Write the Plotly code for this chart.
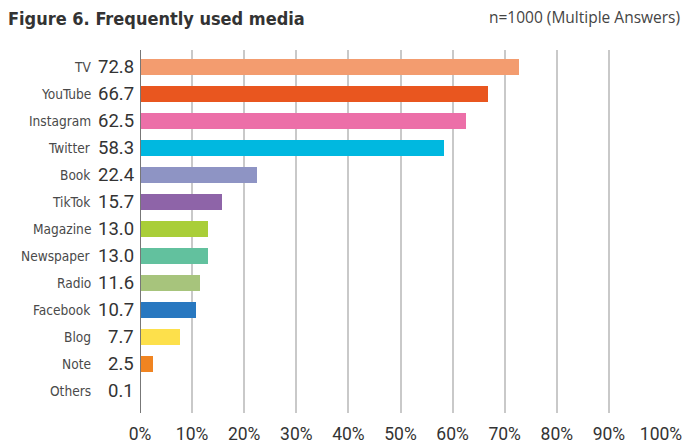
import plotly.graph_objects as go

categories = ["TV", "YouTube", "Instagram", "Twitter", "Book", "TikTok", "Magazine",
              "Newspaper", "Radio", "Facebook", "Blog", "Note", "Others"]
values = [72.8, 66.7, 62.5, 58.3, 22.4, 15.7, 13.0, 13.0, 11.6, 10.7, 7.7, 2.5, 0.1]
colors = ["#F39C6F", "#E9561F", "#EC6FA8", "#00B8E0", "#8E94C4", "#8E64A8", "#A9CE38",
          "#62C19E", "#A7C47C", "#2878C0", "#FDE04B", "#F08421", "#8B6A4A"]
x_ticks = list(range(0, 101, 10))
x_ticklabels = [f"{t}%" for t in x_ticks]

W, H = 687, 444
L, R, T, B = 139.5, 26, 50, 31
plot_w = W - L - R
plot_h = H - T - B

NARROW = "DejaVu Sans Condensed, DejaVu Sans, sans-serif"
NUM = "Roboto, sans-serif"

fig = go.Figure()
fig.add_trace(go.Bar(
    x=values, y=categories, orientation="h",
    marker=dict(color=colors, line=dict(width=0)),
    width=0.59, hoverinfo="skip",
))

annotations = []
for c, v in zip(categories, values):
    annotations.append(dict(
        x=(92 - L) / plot_w, xref="paper", y=c, yref="y",
        text=c, showarrow=False, xanchor="right", yanchor="middle",
        font=dict(family=NARROW, size=13.6, color="#4a4a4a"),
    ))
    annotations.append(dict(
        x=(135.5 - L) / plot_w, xref="paper", y=c, yref="y",
        text=f"{v:.1f}", showarrow=False, xanchor="right", yanchor="middle",
        font=dict(family=NUM, size=18.5, color="#333333"),
    ))

annotations.append(dict(
    x=(5 - L) / plot_w, xref="paper", y=1 + (T - 19) / plot_h,
    yref="paper", text="<b>Figure 6. Frequently used media</b>", showarrow=False,
    xanchor="left", yanchor="middle",
    font=dict(family=NARROW, size=18, color="#333333"),
))
annotations.append(dict(
    x=(682 - L) / plot_w, xref="paper", y=1 + (T - 17) / plot_h,
    yref="paper", text="n=1000 (Multiple Answers)", showarrow=False,
    xanchor="right", yanchor="middle",
    font=dict(family="Open Sans, sans-serif", size=15.5, color="#444444"),
))

fig.update_layout(
    width=W, height=H,
    margin=dict(l=L, r=R, t=T, b=B, pad=0, autoexpand=False),
    paper_bgcolor="white", plot_bgcolor="white",
    showlegend=False,
    bargap=0,
    annotations=annotations,
    xaxis=dict(
        range=[0, 100], tickvals=x_ticks, ticktext=x_ticklabels,
        showgrid=True, gridcolor="#C9C9C9", gridwidth=2,
        zeroline=False, showline=False, ticks="",
        tickfont=dict(family=NUM, size=17.5, color="#333333"),
        ticklabelstandoff=8,
        fixedrange=True, automargin=False,
    ),
    yaxis=dict(
        type="category", categoryorder="array", categoryarray=categories,
        range=[12.82, -0.63], showticklabels=False, showgrid=False,
        zeroline=False, showline=False, ticks="", fixedrange=True,
        automargin=False,
    ),
    shapes=[dict(type="line", xref="x", yref="paper", x0=0, x1=0, y0=0, y1=1,
                 line=dict(color="#777777", width=2))],
)

fig.write_html(
    "out.html",
    config={"displayModeBar": False},
    post_script="document.body.style.margin='0';document.body.style.overflow='hidden';",
)
